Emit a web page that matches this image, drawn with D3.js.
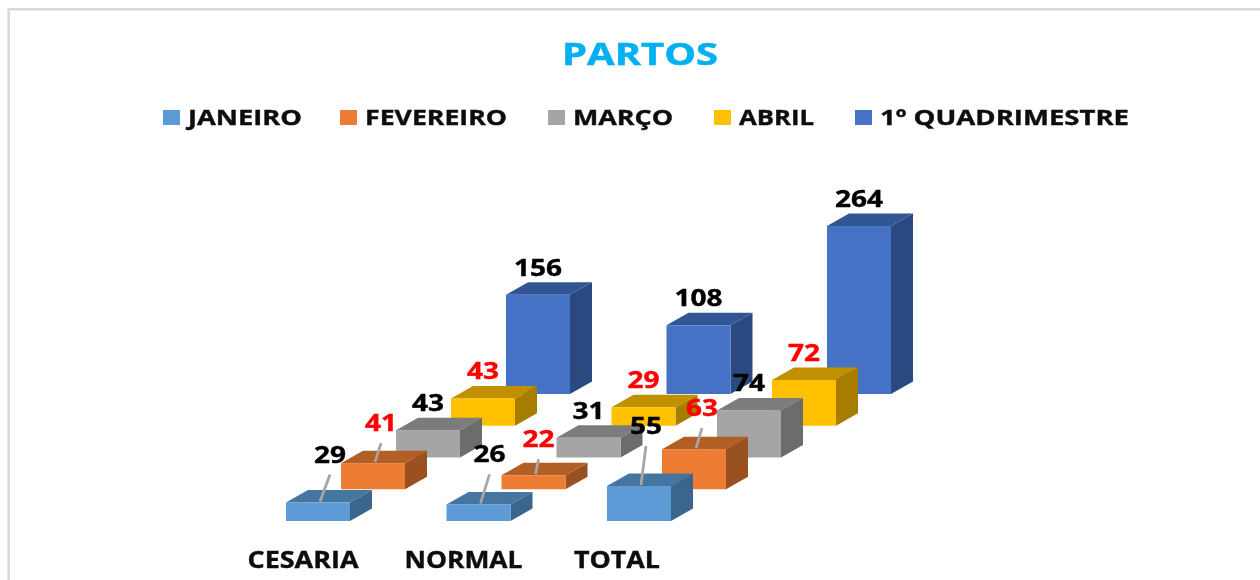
<!DOCTYPE html>
<html><head><meta charset="utf-8">
<script src="https://cdn.jsdelivr.net/npm/d3@7/dist/d3.min.js"></script>
<style>html,body{margin:0;padding:0;background:#fff}svg{display:block}text{font-family:"Open Sans",sans-serif;font-weight:700}</style>
</head><body><svg id="c" width="1260" height="580"></svg>
<script>
const titleText = "PARTOS";
const categories = ["CESARIA", "NORMAL", "TOTAL"];
const seriesNames = ["JANEIRO", "FEVEREIRO", "MARÇO", "ABRIL", "1º QUADRIMESTRE"];
const janeiro = [29, 26, 55];
const fevereiro = [41, 22, 63];
const marco = [43, 31, 74];
const abril = [43, 29, 72];
const quadrimestre = [156, 108, 264];
const seriesValues = [janeiro, fevereiro, marco, abril, quadrimestre];
const seriesColors = ["#5B9BD5", "#ED7D31", "#A5A5A5", "#FFC000", "#4472C4"];
const labelColors = ["#000", "#f00", "#000", "#f00", "#000"];

// layout of the oblique projection
const W = 64, DX = 22, DY = -12.5;
const x0 = d3.scaleLinear().domain([0, 2]).range([286, 607]);       // category step
const xs = d3.scaleLinear().domain([0, 4]).range([0, 220]);         // series step, x
const ys = d3.scaleLinear().domain([0, 4]).range([521, 394]);       // series floor, y
const h = d3.scaleLinear().domain([0, 264]).range([0, 168]);        // value to height

const svg = d3.select("#c");
const defs = svg.append("defs");
defs.append("filter").attr("id", "soft").attr("x", "-5%").attr("y", "-5%").attr("width", "110%").attr("height", "110%")
  .append("feGaussianBlur").attr("stdDeviation", 0.55);

const root = svg.append("g").attr("filter", "url(#soft)");
root.append("path").attr("d", "M8.7,590V9.2H1270").attr("fill", "none").attr("stroke", "#d9d9d9").attr("stroke-width", 2.6);

root.append("text").attr("x", 640).attr("y", 65).attr("text-anchor", "middle")
  .attr("font-size", 31).attr("fill", "#00B0F0").attr("stroke", "#00B0F0").attr("stroke-width", 0.5)
  .attr("textLength", 156).attr("lengthAdjust", "spacingAndGlyphs").text(titleText);

// legend
const legendSwatchX = [163, 340, 548, 714, 855];
const legendTextW = [114, 142, 100, 75, 249];
const lg = root.selectAll("g.lg").data(seriesNames).join("g").attr("class", "lg");
lg.append("rect").attr("x", (d, i) => legendSwatchX[i]).attr("y", 110).attr("width", 17).attr("height", 15)
  .attr("fill", (d, i) => seriesColors[i]);
lg.append("text").attr("x", (d, i) => legendSwatchX[i] + 25).attr("y", 125).attr("font-size", 21).attr("fill", "#111")
  .attr("stroke", "#111").attr("stroke-width", 0.4)
  .attr("textLength", (d, i) => legendTextW[i]).attr("lengthAdjust", "spacingAndGlyphs").text(d => d);

// flat list of bars, back series first
const bars = [];
seriesValues.forEach((vals, s) => vals.forEach((v, c) => bars.push({s, c, v})));
bars.sort((a, b) => b.s - a.s || a.c - b.c);

const px = d => x0(d.c) + xs(d.s);
const base = d => ys(d.s);
const top_ = d => base(d) - h(d.v);
const shade = (col, k) => d3.rgb(col).darker(k).formatHex();

const g = root.selectAll("g.bar").data(bars).join("g").attr("class", "bar");
g.append("path").attr("fill", d => shade(seriesColors[d.s], 1.2))
  .attr("d", d => `M${px(d)+W},${top_(d)}l${DX},${DY}V${base(d)+DY}l${-DX},${-DY}Z`);
g.append("path").attr("fill", d => shade(seriesColors[d.s], 0.8))
  .attr("d", d => `M${px(d)},${top_(d)}l${DX},${DY}h${W}l${-DX},${-DY}Z`);
g.append("rect").attr("x", px).attr("y", top_).attr("width", W).attr("height", d => h(d.v))
  .attr("fill", d => seriesColors[d.s]);

// data labels: the two front series carry leader lines
const lift = [[40, 42, 52], [32, 28, 33]];
const shift = [[12, 11, 7], [8, 5, 8]];
const lab = bars.slice();
const lx = d => px(d) + W / 2 + (d.s < 2 ? shift[d.s][d.c] : 0);
const ly = d => top_(d) - (d.s < 2 ? lift[d.s][d.c] : 19);
root.selectAll("line.lead").data(lab.filter(d => d.s < 2)).join("line").attr("class", "lead")
  .attr("x1", d => px(d) + W / 2 + 2).attr("y1", d => top_(d) - 1)
  .attr("x2", lx).attr("y2", d => ly(d) + 12)
  .attr("stroke", "#a6a6a6").attr("stroke-width", 2.8);
root.selectAll("text.val").data(lab).join("text").attr("class", "val")
  .attr("x", lx).attr("y", ly).attr("text-anchor", "middle").attr("font-size", 23)
  .attr("fill", d => labelColors[d.s]).attr("stroke", d => labelColors[d.s]).attr("stroke-width", 0.4)
  .attr("textLength", d => String(d.v).length * 16).attr("lengthAdjust", "spacingAndGlyphs").text(d => d.v);

// category labels
const catCentre = [-15, -15, -22];
const catWidths = [111, 118, 86];
root.selectAll("text.cat").data(categories).join("text").attr("class", "cat")
  .attr("x", (d, i) => x0(i) + W / 2 + catCentre[i]).attr("y", 568).attr("text-anchor", "middle")
  .attr("font-size", 23).attr("fill", "#111").attr("stroke", "#111").attr("stroke-width", 0.4)
  .attr("textLength", (d, i) => catWidths[i]).attr("lengthAdjust", "spacingAndGlyphs").text(d => d);
</script></body></html>
